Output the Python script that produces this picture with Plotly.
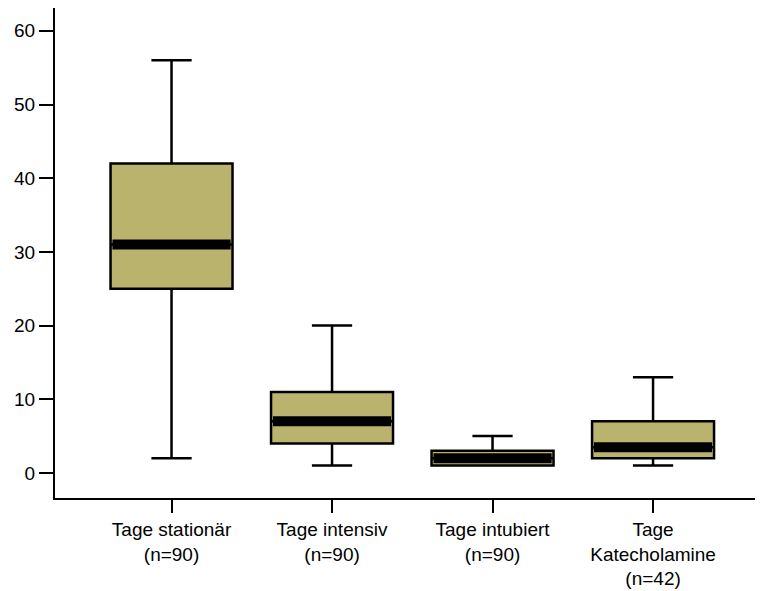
import plotly.graph_objects as go

categories = ["Tage stationär<br>(n=90)", "Tage intensiv<br>(n=90)",
              "Tage intubiert<br>(n=90)", "Tage<br>Katecholamine<br>(n=42)"]
q1 = [25, 4, 1, 2]
median = [31, 7, 2, 3.5]
q3 = [42, 11, 3, 7]
lower = [2, 1, 1, 1]
upper = [56, 20, 5, 13]
y_ticks = [0, 10, 20, 30, 40, 50, 60]

pos = list(range(len(categories)))
box_w = 0.76
fill = "#bab36e"

fig = go.Figure()
fig.add_trace(go.Box(
    x=pos, q1=q1, median=median, q3=q3, lowerfence=lower, upperfence=upper,
    width=box_w, whiskerwidth=0.33, fillcolor=fill,
    line=dict(color="black", width=2.5), boxpoints=False, hoverinfo="skip",
    showlegend=False,
))
mx, my = [], []
for p, m in zip(pos, median):
    mx += [p - box_w / 2 + 0.012, p + box_w / 2 - 0.012, None]
    my += [m, m, None]
fig.add_trace(go.Scatter(x=mx, y=my, mode="lines",
                         line=dict(color="black", width=10),
                         showlegend=False, hoverinfo="skip"))

# page body has an 8px margin, so the figure is sized to fit inside the window
fig.update_layout(
    width=755, height=583,
    margin=dict(l=47, r=0, t=0, b=93),
    plot_bgcolor="white", paper_bgcolor="white",
    font=dict(family="Liberation Sans, Arial, sans-serif", size=19, color="black"),
)
fig.update_xaxes(
    range=[-0.726, 3.685], tickvals=pos, ticktext=categories,
    showline=True, linecolor="black", linewidth=2,
    ticks="outside", ticklen=13, tickwidth=2, tickcolor="black",
    showgrid=False, zeroline=False, tickfont=dict(size=19), automargin=False,
)
fig.update_yaxes(
    range=[-3.4, 63.1], tickvals=y_ticks,
    showline=True, linecolor="black", linewidth=2,
    ticks="outside", ticklen=14, tickwidth=2, tickcolor="black",
    showgrid=False, zeroline=False, tickfont=dict(size=19), automargin=False,
)
fig.write_html("out.html")
